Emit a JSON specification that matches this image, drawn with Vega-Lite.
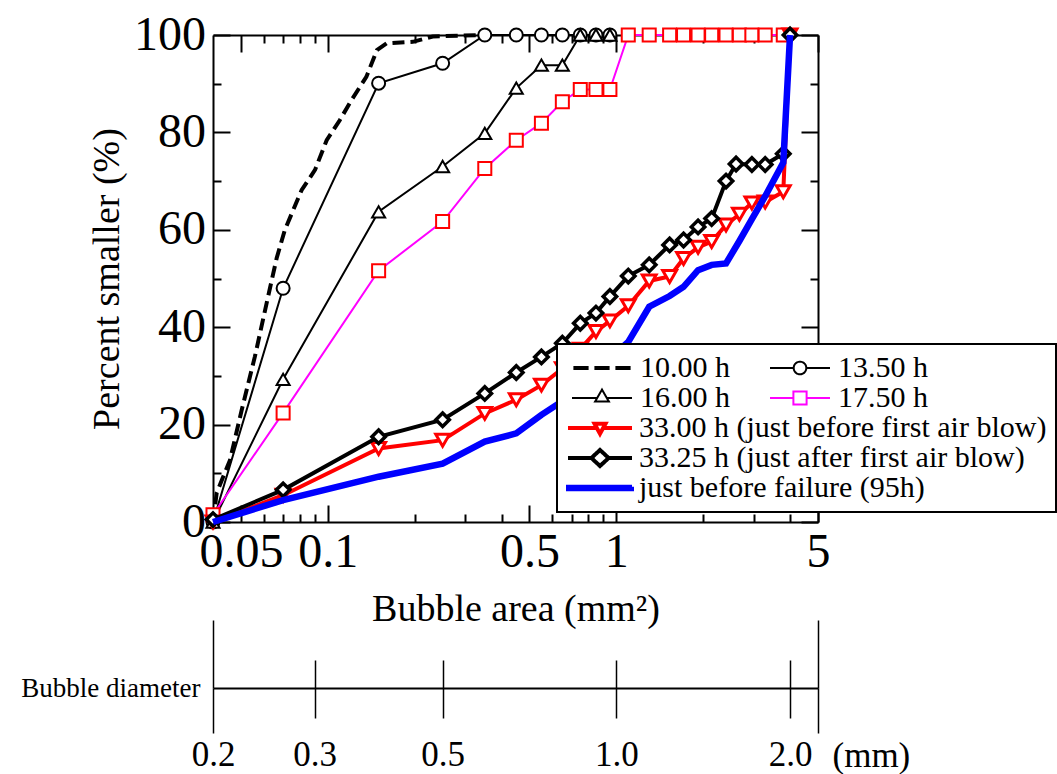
{
  "$schema": "https://vega.github.io/schema/vega-lite/v6.json",
  "width": 605,
  "height": 487,
  "autosize": {"type": "none"},
  "padding": {"left": 213, "top": 35, "right": 239, "bottom": 252},
  "background": "white",
  "data": {
    "values": [
      {"series": "10.00 h", "area": 0.04, "pct": 0},
      {"series": "10.00 h", "area": 0.0412, "pct": 6},
      {"series": "10.00 h", "area": 0.0458, "pct": 12.7},
      {"series": "10.00 h", "area": 0.0503, "pct": 23},
      {"series": "10.00 h", "area": 0.0559, "pct": 34},
      {"series": "10.00 h", "area": 0.0614, "pct": 45},
      {"series": "10.00 h", "area": 0.0665, "pct": 54.2},
      {"series": "10.00 h", "area": 0.071, "pct": 60},
      {"series": "10.00 h", "area": 0.0812, "pct": 68.2},
      {"series": "10.00 h", "area": 0.0903, "pct": 72.3},
      {"series": "10.00 h", "area": 0.0991, "pct": 78.4},
      {"series": "10.00 h", "area": 0.11, "pct": 82.5},
      {"series": "10.00 h", "area": 0.121, "pct": 86.7},
      {"series": "10.00 h", "area": 0.136, "pct": 91.4},
      {"series": "10.00 h", "area": 0.148, "pct": 96.9},
      {"series": "10.00 h", "area": 0.16, "pct": 98.3},
      {"series": "10.00 h", "area": 0.197, "pct": 98.6},
      {"series": "10.00 h", "area": 0.231, "pct": 99.7},
      {"series": "10.00 h", "area": 0.337, "pct": 100},
      {"series": "10.00 h", "area": 0.36, "pct": 100},

      {"series": "13.50 h", "area": 0.04, "pct": 0},
      {"series": "13.50 h", "area": 0.07, "pct": 48.0},
      {"series": "13.50 h", "area": 0.15, "pct": 90.1},
      {"series": "13.50 h", "area": 0.25, "pct": 94.2},
      {"series": "13.50 h", "area": 0.35, "pct": 100},
      {"series": "13.50 h", "area": 0.45, "pct": 100},
      {"series": "13.50 h", "area": 0.55, "pct": 100},
      {"series": "13.50 h", "area": 0.65, "pct": 100},
      {"series": "13.50 h", "area": 0.75, "pct": 100},
      {"series": "13.50 h", "area": 0.85, "pct": 100},
      {"series": "13.50 h", "area": 0.95, "pct": 100},

      {"series": "16.00 h", "area": 0.04, "pct": 0},
      {"series": "16.00 h", "area": 0.07, "pct": 29.3},
      {"series": "16.00 h", "area": 0.15, "pct": 63.7},
      {"series": "16.00 h", "area": 0.25, "pct": 73.0},
      {"series": "16.00 h", "area": 0.35, "pct": 79.8},
      {"series": "16.00 h", "area": 0.45, "pct": 89.1},
      {"series": "16.00 h", "area": 0.55, "pct": 93.8},
      {"series": "16.00 h", "area": 0.65, "pct": 93.8},
      {"series": "16.00 h", "area": 0.75, "pct": 100},
      {"series": "16.00 h", "area": 0.85, "pct": 100},
      {"series": "16.00 h", "area": 0.95, "pct": 100},

      {"series": "17.50 h", "area": 0.04, "pct": 1.5},
      {"series": "17.50 h", "area": 0.07, "pct": 22.4},
      {"series": "17.50 h", "area": 0.15, "pct": 51.6},
      {"series": "17.50 h", "area": 0.25, "pct": 61.7},
      {"series": "17.50 h", "area": 0.35, "pct": 72.6},
      {"series": "17.50 h", "area": 0.45, "pct": 78.4},
      {"series": "17.50 h", "area": 0.55, "pct": 81.9},
      {"series": "17.50 h", "area": 0.65, "pct": 86.3},
      {"series": "17.50 h", "area": 0.75, "pct": 88.8},
      {"series": "17.50 h", "area": 0.85, "pct": 88.8},
      {"series": "17.50 h", "area": 0.95, "pct": 88.8},
      {"series": "17.50 h", "area": 1.1, "pct": 100},
      {"series": "17.50 h", "area": 1.3, "pct": 100},
      {"series": "17.50 h", "area": 1.53, "pct": 100},
      {"series": "17.50 h", "area": 1.71, "pct": 100},
      {"series": "17.50 h", "area": 1.92, "pct": 100},
      {"series": "17.50 h", "area": 2.14, "pct": 100},
      {"series": "17.50 h", "area": 2.4, "pct": 100},
      {"series": "17.50 h", "area": 2.67, "pct": 100},
      {"series": "17.50 h", "area": 2.95, "pct": 100},
      {"series": "17.50 h", "area": 3.28, "pct": 100},
      {"series": "17.50 h", "area": 3.79, "pct": 100},

      {"series": "33.00 h (just before first air blow)", "area": 0.04, "pct": 0},
      {"series": "33.00 h (just before first air blow)", "area": 0.07, "pct": 5.5},
      {"series": "33.00 h (just before first air blow)", "area": 0.15, "pct": 15.1},
      {"series": "33.00 h (just before first air blow)", "area": 0.25, "pct": 16.8},
      {"series": "33.00 h (just before first air blow)", "area": 0.35, "pct": 22.3},
      {"series": "33.00 h (just before first air blow)", "area": 0.45, "pct": 25.1},
      {"series": "33.00 h (just before first air blow)", "area": 0.55, "pct": 28.1},
      {"series": "33.00 h (just before first air blow)", "area": 0.65, "pct": 31.5},
      {"series": "33.00 h (just before first air blow)", "area": 0.75, "pct": 35.5},
      {"series": "33.00 h (just before first air blow)", "area": 0.85, "pct": 39.1},
      {"series": "33.00 h (just before first air blow)", "area": 0.95, "pct": 41.3},
      {"series": "33.00 h (just before first air blow)", "area": 1.1, "pct": 44.4},
      {"series": "33.00 h (just before first air blow)", "area": 1.3, "pct": 49.5},
      {"series": "33.00 h (just before first air blow)", "area": 1.53, "pct": 50.4},
      {"series": "33.00 h (just before first air blow)", "area": 1.71, "pct": 54.1},
      {"series": "33.00 h (just before first air blow)", "area": 1.92, "pct": 56.4},
      {"series": "33.00 h (just before first air blow)", "area": 2.14, "pct": 57.6},
      {"series": "33.00 h (just before first air blow)", "area": 2.4, "pct": 61.0},
      {"series": "33.00 h (just before first air blow)", "area": 2.67, "pct": 63.2},
      {"series": "33.00 h (just before first air blow)", "area": 2.95, "pct": 65.5},
      {"series": "33.00 h (just before first air blow)", "area": 3.28, "pct": 65.7},
      {"series": "33.00 h (just before first air blow)", "area": 3.79, "pct": 67.8},
      {"series": "33.00 h (just before first air blow)", "area": 4.0, "pct": 100},

      {"series": "33.25 h (just after first air blow)", "area": 0.04, "pct": 0.5},
      {"series": "33.25 h (just after first air blow)", "area": 0.07, "pct": 6.6},
      {"series": "33.25 h (just after first air blow)", "area": 0.15, "pct": 17.5},
      {"series": "33.25 h (just after first air blow)", "area": 0.25, "pct": 21.0},
      {"series": "33.25 h (just after first air blow)", "area": 0.35, "pct": 26.4},
      {"series": "33.25 h (just after first air blow)", "area": 0.45, "pct": 30.7},
      {"series": "33.25 h (just after first air blow)", "area": 0.55, "pct": 33.9},
      {"series": "33.25 h (just after first air blow)", "area": 0.65, "pct": 36.7},
      {"series": "33.25 h (just after first air blow)", "area": 0.75, "pct": 40.8},
      {"series": "33.25 h (just after first air blow)", "area": 0.85, "pct": 42.9},
      {"series": "33.25 h (just after first air blow)", "area": 0.95, "pct": 46.3},
      {"series": "33.25 h (just after first air blow)", "area": 1.1, "pct": 50.5},
      {"series": "33.25 h (just after first air blow)", "area": 1.3, "pct": 52.8},
      {"series": "33.25 h (just after first air blow)", "area": 1.53, "pct": 56.9},
      {"series": "33.25 h (just after first air blow)", "area": 1.71, "pct": 57.9},
      {"series": "33.25 h (just after first air blow)", "area": 1.92, "pct": 60.6},
      {"series": "33.25 h (just after first air blow)", "area": 2.14, "pct": 62.3},
      {"series": "33.25 h (just after first air blow)", "area": 2.4, "pct": 70.0},
      {"series": "33.25 h (just after first air blow)", "area": 2.6, "pct": 73.5},
      {"series": "33.25 h (just after first air blow)", "area": 2.95, "pct": 73.4},
      {"series": "33.25 h (just after first air blow)", "area": 3.28, "pct": 73.4},
      {"series": "33.25 h (just after first air blow)", "area": 3.79, "pct": 75.6},
      {"series": "33.25 h (just after first air blow)", "area": 4.0, "pct": 100},

      {"series": "just before failure (95h)", "area": 0.04, "pct": 0},
      {"series": "just before failure (95h)", "area": 0.07, "pct": 4.5},
      {"series": "just before failure (95h)", "area": 0.15, "pct": 9.3},
      {"series": "just before failure (95h)", "area": 0.25, "pct": 12.0},
      {"series": "just before failure (95h)", "area": 0.35, "pct": 16.5},
      {"series": "just before failure (95h)", "area": 0.45, "pct": 18.2},
      {"series": "just before failure (95h)", "area": 0.55, "pct": 22.0},
      {"series": "just before failure (95h)", "area": 0.65, "pct": 24.8},
      {"series": "just before failure (95h)", "area": 0.75, "pct": 28.2},
      {"series": "just before failure (95h)", "area": 0.85, "pct": 31.1},
      {"series": "just before failure (95h)", "area": 0.95, "pct": 33.6},
      {"series": "just before failure (95h)", "area": 1.1, "pct": 37.0},
      {"series": "just before failure (95h)", "area": 1.3, "pct": 44.2},
      {"series": "just before failure (95h)", "area": 1.53, "pct": 46.4},
      {"series": "just before failure (95h)", "area": 1.71, "pct": 48.3},
      {"series": "just before failure (95h)", "area": 1.92, "pct": 51.7},
      {"series": "just before failure (95h)", "area": 2.14, "pct": 52.8},
      {"series": "just before failure (95h)", "area": 2.4, "pct": 53.1},
      {"series": "just before failure (95h)", "area": 2.67, "pct": 57.7},
      {"series": "just before failure (95h)", "area": 2.95, "pct": 62.2},
      {"series": "just before failure (95h)", "area": 3.28, "pct": 66.9},
      {"series": "just before failure (95h)", "area": 3.79, "pct": 73.8},
      {"series": "just before failure (95h)", "area": 4.0, "pct": 100}
    ]
  },
  "layer": [
    {
      "layer": [
        {
          "transform": [{"filter": {"field": "series", "equal": "10.00 h"}}],
          "mark": {"type": "line", "strokeWidth": 4, "strokeDash": [12, 6]},
          "encoding": {
            "x": {
              "field": "area", "type": "quantitative",
              "scale": {"type": "log", "domain": [0.04, 5], "nice": false},
              "axis": {
                "orient": "bottom",
                "values": [0.05, 0.06, 0.07, 0.08, 0.09, 0.1, 0.2, 0.3, 0.4, 0.5, 0.6, 0.7, 0.8, 0.9, 1, 2, 3, 4, 5],
                "tickSize": {"condition": {"test": "indexof([0.05,0.1,0.5,1,5], datum.value) >= 0", "value": -17}, "value": -8},
                "tickWidth": 2,
                "domainWidth": 2,
                "labelExpr": "indexof([0.05,0.1,0.5,1,5], datum.value) >= 0 ? format(datum.value, '~g') : ''",
                "labelFontSize": 48,
                "labelPadding": 23,
                "labelFlush": false,
                "labelOverlap": false,
                "labelBound": false,
                "title": "Bubble area (mm²)",
                "titleFontSize": 38,
                "titleX": 302.5,
                "titleY": 98,
                "titleAlign": "center",
                "titleBaseline": "alphabetic",
                "titleAngle": 0
              }
            },
            "y": {
              "field": "pct", "type": "quantitative",
              "scale": {"domain": [0, 100], "nice": false},
              "axis": {
                "orient": "left",
                "values": [0, 10, 20, 30, 40, 50, 60, 70, 80, 90, 100],
                "tickSize": {"condition": {"test": "datum.value % 20 === 0", "value": -17}, "value": -8},
                "tickWidth": 2,
                "domainWidth": 2,
                "labelExpr": "datum.value % 20 === 0 ? format(datum.value, 'd') : ''",
                "labelFontSize": 48,
                "labelPadding": 24.5,
                "labelFlush": false,
                "labelOverlap": false,
                "labelBound": false,
                "title": "Percent smaller (%)",
                "titleFontSize": 38,
                "titleX": -95,
                "titleY": 243.5,
                "titleAlign": "center",
                "titleBaseline": "alphabetic",
                "titleAngle": -90
              }
            },
            "color": {
              "field": "series", "type": "nominal",
              "scale": {"domain": ["10.00 h", "16.00 h", "13.50 h", "17.50 h"], "range": ["black", "black", "black", "#ff00ff"]},
              "legend": {
                "orient": "none",
                "legendX": 358,
                "legendY": 318,
                "zindex": 1,
                "title": null,
                "direction": "vertical",
                "columns": 2,
                "columnPadding": 39,
                "rowPadding": 0,
                "padding": 0,
                "clipHeight": 30,
                "symbolSize": 3600,
                "symbolStrokeWidth": 2,
                "symbolType": "stroke",
                "labelFontSize": 30,
                "labelOffset": 7,
                "labelLimit": 1000,
                "encode": {
                  "symbols": {
                    "update": {
                      "shape": [
                        {"test": "datum.value === '10.00 h'", "value": "M-0.92,-0.033H-0.48V0.033H-0.92Z M-0.22,-0.033H0.22V0.033H-0.22Z M0.48,-0.033H0.92V0.033H0.48Z"},
                        {"test": "datum.value === '13.50 h'", "value": "M-1,0H-0.21M0.21,0H1M0.21,0A0.21,0.21,0,1,1,-0.21,0A0.21,0.21,0,1,1,0.21,0Z"},
                        {"test": "datum.value === '16.00 h'", "value": "M-1,0H-0.16M0.16,0H1M0,-0.28L0.23,0.12L-0.23,0.12Z"},
                        {"value": "M-1,0H-0.22M0.22,0H1M-0.22,-0.22H0.22V0.22H-0.22Z"}
                      ],
                      "fill": [
                        {"test": "datum.value === '10.00 h'", "value": "black"},
                        {"value": "white"}
                      ],
                      "strokeWidth": {"value": 2},
                      "strokeDash": {"value": [1, 0]},
                      "opacity": {"value": 1}
                    }
                  }
                }
              }
            }
          }
        },
        {
          "transform": [{"filter": {"field": "series", "oneOf": ["13.50 h", "16.00 h", "17.50 h"]}}],
          "mark": {"type": "line", "strokeWidth": 2},
          "encoding": {
            "x": {
              "field": "area", "type": "quantitative",
              "scale": {"type": "log", "domain": [0.04, 5], "nice": false},
              "axis": {
                "orient": "top",
                "values": [0.05, 0.06, 0.07, 0.08, 0.09, 0.1, 0.2, 0.3, 0.4, 0.5, 0.6, 0.7, 0.8, 0.9, 1, 2, 3, 4, 5],
                "tickSize": {"condition": {"test": "indexof([0.05,0.1,0.5,1,5], datum.value) >= 0", "value": -17}, "value": -8},
                "tickWidth": 2,
                "domainWidth": 2,
                "labels": false,
                "title": null
              }
            },
            "y": {
              "field": "pct", "type": "quantitative",
              "scale": {"domain": [0, 100], "nice": false},
              "axis": {
                "orient": "right",
                "values": [0, 10, 20, 30, 40, 50, 60, 70, 80, 90, 100],
                "tickSize": {"condition": {"test": "datum.value % 20 === 0", "value": -17}, "value": -8},
                "tickWidth": 2,
                "domainWidth": 2,
                "labels": false,
                "title": null
              }
            },
            "color": {
              "field": "series", "type": "nominal",
              "scale": {"domain": ["10.00 h", "16.00 h", "13.50 h", "17.50 h"], "range": ["black", "black", "black", "#ff00ff"]}
            }
          }
        },
        {
          "transform": [{"filter": {"field": "series", "oneOf": ["13.50 h", "16.00 h", "17.50 h"]}}],
          "mark": {"type": "point", "filled": false, "size": 170, "strokeWidth": 2, "opacity": 1},
          "encoding": {
            "x": {
              "field": "area", "type": "quantitative",
              "scale": {"type": "log", "domain": [0.04, 5], "nice": false},
              "axis": {
                "orient": "top",
                "offset": -653,
                "values": [0.04, 0.09, 0.25, 1, 4, 5],
                "tickSize": {"condition": {"test": "datum.value === 0.04 || datum.value === 5", "value": 68}, "value": 28},
                "tickWidth": 1.5,
                "domainWidth": 2,
                "labels": false,
                "title": "Bubble diameter",
                "titleFontSize": 27,
                "titleX": -13,
                "titleY": 0,
                "titleAlign": "right",
                "titleBaseline": "middle",
                "titleAngle": 0
              }
            },
            "y": {"field": "pct", "type": "quantitative", "scale": {"domain": [0, 100], "nice": false}, "axis": null},
            "shape": {
              "field": "series", "type": "nominal",
              "scale": {"domain": ["13.50 h", "16.00 h", "17.50 h"], "range": ["circle", "triangle-up", "square"]},
              "legend": null
            },
            "stroke": {
              "field": "series", "type": "nominal",
              "scale": {"domain": ["13.50 h", "16.00 h", "17.50 h"], "range": ["black", "black", "#ff0000"]},
              "legend": null
            },
            "fill": {"value": "white"}
          }
        }
      ],
      "resolve": {"axis": {"x": "independent", "y": "independent"}}
    },
    {
      "layer": [
        {
          "transform": [{"filter": {"field": "series", "equal": "33.00 h (just before first air blow)"}}],
          "mark": {"type": "line", "strokeWidth": 4},
          "encoding": {
            "x": {
              "field": "area", "type": "quantitative",
              "scale": {"type": "log", "domain": [0.04, 5], "nice": false},
              "axis": {
                "orient": "bottom",
                "offset": 166,
                "values": [0.04, 0.09, 0.25, 1, 4, 5],
                "tickSize": {"condition": {"test": "datum.value === 0.04 || datum.value === 5", "value": 45}, "value": 30},
                "tickWidth": 1.5,
                "domain": false,
                "labelExpr": "datum.value >= 5 ? '' : format(sqrt(datum.value), '.1f')",
                "labelFontSize": 35,
                "labelPadding": {"condition": {"test": "datum.value === 0.04 || datum.value === 5", "value": 4}, "value": 19},
                "labelFlush": false,
                "labelOverlap": false,
                "labelBound": false,
                "title": "(mm)",
                "titleFontSize": 35,
                "titleX": 619,
                "titleY": 78,
                "titleAlign": "left",
                "titleBaseline": "alphabetic",
                "titleAngle": 0
              }
            },
            "y": {"field": "pct", "type": "quantitative", "scale": {"domain": [0, 100], "nice": false}, "axis": null},
            "color": {
              "field": "series", "type": "nominal",
              "scale": {
                "domain": ["33.00 h (just before first air blow)", "33.25 h (just after first air blow)", "just before failure (95h)"],
                "range": ["#ff0000", "black", "#0000ff"]
              },
              "legend": {
                "orient": "none",
                "legendX": 344,
                "legendY": 309,
                "zindex": 0,
                "title": ["\u00a0", "\u00a0"],
                "titleFontSize": 30,
                "titleLineHeight": 30,
                "titlePadding": 0,
                "titleFontWeight": "normal",
                "direction": "vertical",
                "columns": 1,
                "padding": 9,
                "strokeColor": "black",
                "fillColor": "white",
                "rowPadding": 0,
                "clipHeight": 30,
                "symbolSize": 4096,
                "symbolStrokeWidth": 4,
                "symbolType": "stroke",
                "labelFontSize": 30,
                "labelOffset": 5,
                "labelLimit": 1000,
                "encode": {
                  "symbols": {
                    "update": {
                      "shape": [
                        {"test": "datum.value === '33.00 h (just before first air blow)'", "value": "M-1,0H-0.1M0.1,0H1M-0.17,-0.13H0.17L0,0.18Z"},
                        {"test": "datum.value === '33.25 h (just after first air blow)'", "value": "M-1,0H-0.27M0.27,0H1M0,-0.25L0.27,0L0,0.25L-0.27,0Z"},
                        {"value": "M-1,-0.039H1V0.039H-1Z"}
                      ],
                      "fill": [
                        {"test": "datum.value === 'just before failure (95h)'", "value": "#0000ff"},
                        {"value": "white"}
                      ],
                      "strokeWidth": {"value": 4},
                      "strokeDash": {"value": [1, 0]},
                      "opacity": {"value": 1}
                    }
                  }
                }
              }
            }
          }
        },
        {
          "transform": [{"filter": {"field": "series", "equal": "33.00 h (just before first air blow)"}}],
          "mark": {"type": "point", "shape": "triangle-down", "filled": false, "fill": "white", "stroke": "#ff0000", "size": 190, "strokeWidth": 3, "opacity": 1},
          "encoding": {
            "x": {"field": "area", "type": "quantitative", "scale": {"type": "log", "domain": [0.04, 5], "nice": false}, "axis": null},
            "y": {"field": "pct", "type": "quantitative", "scale": {"domain": [0, 100], "nice": false}, "axis": null}
          }
        },
        {
          "transform": [{"filter": {"field": "series", "equal": "33.25 h (just after first air blow)"}}],
          "mark": {"type": "line", "strokeWidth": 4},
          "encoding": {
            "x": {"field": "area", "type": "quantitative", "scale": {"type": "log", "domain": [0.04, 5], "nice": false}, "axis": null},
            "y": {"field": "pct", "type": "quantitative", "scale": {"domain": [0, 100], "nice": false}, "axis": null},
            "color": {
              "field": "series", "type": "nominal",
              "scale": {
                "domain": ["33.00 h (just before first air blow)", "33.25 h (just after first air blow)", "just before failure (95h)"],
                "range": ["#ff0000", "black", "#0000ff"]
              }
            }
          }
        },
        {
          "transform": [{"filter": {"field": "series", "equal": "33.25 h (just after first air blow)"}}],
          "mark": {"type": "point", "shape": "diamond", "filled": false, "fill": "white", "stroke": "black", "size": 180, "strokeWidth": 3.5, "opacity": 1},
          "encoding": {
            "x": {"field": "area", "type": "quantitative", "scale": {"type": "log", "domain": [0.04, 5], "nice": false}, "axis": null},
            "y": {"field": "pct", "type": "quantitative", "scale": {"domain": [0, 100], "nice": false}, "axis": null}
          }
        },
        {
          "transform": [{"filter": {"field": "series", "equal": "just before failure (95h)"}}],
          "mark": {"type": "line", "strokeWidth": 6.5},
          "encoding": {
            "x": {"field": "area", "type": "quantitative", "scale": {"type": "log", "domain": [0.04, 5], "nice": false}, "axis": null},
            "y": {"field": "pct", "type": "quantitative", "scale": {"domain": [0, 100], "nice": false}, "axis": null},
            "color": {
              "field": "series", "type": "nominal",
              "scale": {
                "domain": ["33.00 h (just before first air blow)", "33.25 h (just after first air blow)", "just before failure (95h)"],
                "range": ["#ff0000", "black", "#0000ff"]
              }
            }
          }
        }
      ],
      "resolve": {"axis": {"x": "independent", "y": "independent"}}
    }
  ],
  "resolve": {
    "scale": {"color": "independent"},
    "axis": {"x": "independent", "y": "independent"}
  },
  "config": {
    "view": {"stroke": null},
    "axis": {
      "grid": false,
      "labelFont": "Liberation Serif",
      "titleFont": "Liberation Serif",
      "labelColor": "black",
      "titleColor": "black",
      "tickColor": "black",
      "domainColor": "black",
      "titleFontWeight": "normal"
    },
    "legend": {
      "labelFont": "Liberation Serif",
      "titleFont": "Liberation Serif",
      "labelColor": "black",
      "strokeWidth": 2
    }
  }
}
